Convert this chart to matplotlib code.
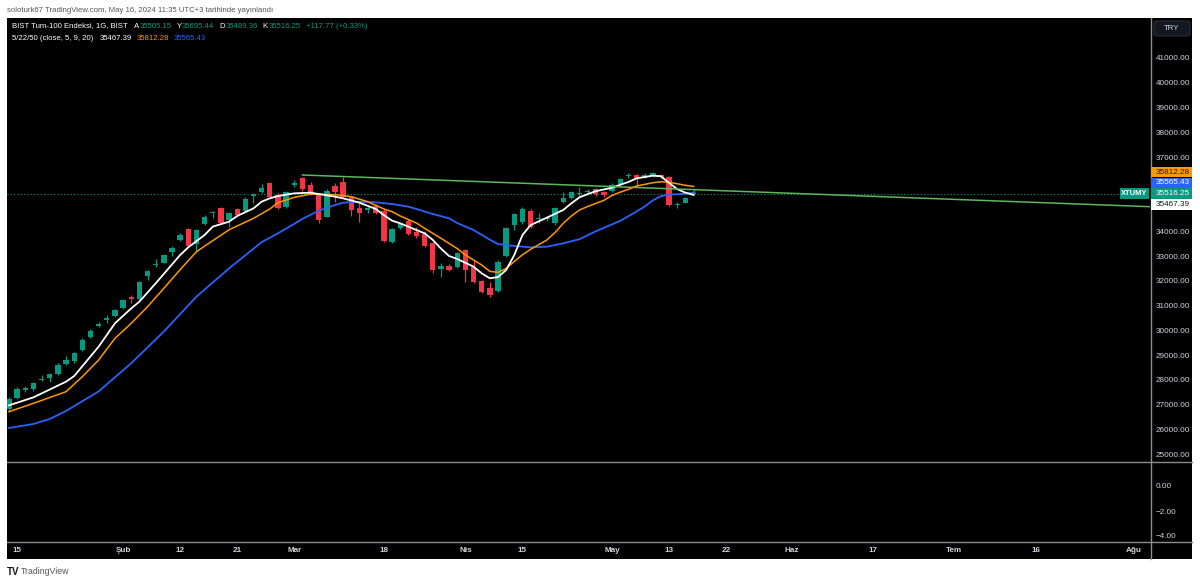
import matplotlib.pyplot as plt
import pandas as pd
from matplotlib.patches import Rectangle, FancyBboxPatch
from matplotlib.lines import Line2D

plt.rcParams['font.family'] = ['Liberation Sans', 'DejaVu Sans']

# trading calendar (BIST, daily)
first_day = '2024-01-12'
last_day = '2024-08-09'
holidays = ['2024-04-10', '2024-04-11', '2024-04-12', '2024-04-23',
            '2024-05-01', '2024-07-15']

# OHLC, one per session from 2024-01-12 to 2024-05-16
opens = [26806, 27250, 27600, 27614, 28000, 28058, 28233, 28637, 28772, 29203,
         29714, 30186, 30420, 30590, 30913, 31357, 31263, 32192, 32624, 32731,
         33175, 33647, 34078, 33485, 34293, 34724, 34926, 34455, 34886, 34832,
         35425, 35600, 35963, 35465, 34994, 35869, 36138, 35869, 35492, 34590,
         35829, 35990, 35371, 34926, 34859, 35034, 34832, 33580, 34118, 34428,
         33983, 33889, 33512, 32462, 32597, 32543, 33243, 32570, 31990, 31721,
         31587, 33014, 34253, 34361, 34832, 34482, 34490, 34320, 35169, 35357,
         35505, 35573, 35694, 35600, 35627, 35909, 36219, 36286, 36165, 36233,
         36259, 36179, 35048, 35155, 35505.15]
highs = [27290, 27694, 27748, 27924, 28193, 28287, 28664, 28960, 29136, 29674,
         30038, 30347, 30603, 30873, 31277, 31425, 32004, 32435, 32866, 33081,
         33405, 33916, 34118, 34105, 34643, 34818, 34994, 34778, 34940, 35371,
         35559, 35909, 36004, 35532, 35640, 36071, 36206, 36004, 35532, 35694,
         35936, 36179, 35425, 35128, 35021, 35101, 34886, 34145, 34347, 34482,
         34186, 34024, 33580, 32704, 32677, 33162, 33297, 32839, 32031, 31964,
         32839, 34186, 34751, 34994, 34886, 34724, 34617, 34967, 35600, 35640,
         35802, 35694, 35734, 35640, 35936, 36138, 36340, 36313, 36340, 36394,
         36313, 36233, 35169, 35398, 35695.44]
lows = [26712, 27210, 27520, 27560, 27964, 27924, 28193, 28610, 28691, 29176,
        29674, 30146, 30280, 30550, 30873, 31088, 31223, 32031, 32570, 32704,
        33000, 33620, 33351, 33176, 34266, 34522, 34293, 34159, 34617, 34792,
        35155, 35532, 35330, 34886, 34953, 35802, 35640, 35451, 34347, 34563,
        35196, 35330, 34617, 34388, 34724, 34684, 33566, 33539, 34078, 33849,
        33714, 33351, 32300, 32139, 32381, 32502, 31964, 31896, 31492, 31358,
        31560, 32974, 34051, 34293, 34118, 34320, 34428, 34253, 35155, 35317,
        35425, 35505, 35425, 35398, 35586, 35869, 36138, 35775, 36138, 36179,
        36165, 35021, 34926, 35128, 35489.36]
closes = [27210, 27614, 27660, 27856, 28050, 28220, 28597, 28799, 29068, 29607,
          29984, 30240, 30490, 30819, 31223, 31250, 31950, 32381, 32691, 33041,
          33337, 33862, 33405, 34051, 34590, 34778, 34320, 34724, 34657, 35317,
          35490, 35761, 35371, 34926, 35600, 35936, 35694, 35492, 34455, 35640,
          35600, 35371, 34859, 34724, 34926, 34724, 33606, 34091, 34280, 33889,
          33808, 33405, 32435, 32610, 32435, 33108, 32435, 31937, 31533, 31425,
          32772, 34118, 34684, 34899, 34186, 34549, 34530, 34926, 35330, 35573,
          35559, 35627, 35492, 35465, 35869, 36098, 36273, 36138, 36273, 36340,
          36206, 35061, 35115, 35357, 35516.25]

# moving averages (white 5, orange 9, blue 20)
ma5_dates = ['01-12', '01-17', '01-23', '01-24', '01-29', '01-31', '02-02', '02-05',
             '02-07', '02-12', '02-13', '02-15', '02-16', '02-20', '02-21', '02-23',
             '02-26', '02-27', '02-28', '03-01', '03-05', '03-08', '03-11', '03-13',
             '03-15', '03-18', '03-19', '03-20', '03-22', '03-25', '03-26', '03-27',
             '03-28', '03-29', '04-02', '04-03', '04-04', '04-05', '04-08', '04-09',
             '04-15', '04-16', '04-18', '04-22', '04-24', '04-25', '04-26', '04-29',
             '05-02', '05-03', '05-06', '05-07', '05-09', '05-10', '05-13', '05-14',
             '05-15', '05-16']
ma5_vals = [26967, 27290, 27923, 28152, 29338, 30280, 30886, 31156,
            31896, 33041, 33351, 33849, 34186, 34388, 34617, 34926,
            35196, 35330, 35425, 35532, 35559, 35398, 35330, 35155,
            34900, 34650, 34430, 34320, 34050, 33916, 33650, 33300,
            33000, 32880, 32570, 32300, 32100, 32150, 32435, 33041,
            33849, 34250, 34550, 34859, 35128, 35371, 35500, 35620,
            35760, 35880, 35990, 36138, 36246, 36220, 35950, 35700,
            35560, 35467.39]
ma9_dates = ['01-12', '01-17', '01-23', '01-25', '01-29', '01-31', '02-02', '02-06',
             '02-08', '02-12', '02-14', '02-16', '02-20', '02-23', '02-27', '02-28',
             '03-01', '03-05', '03-08', '03-12', '03-14', '03-18', '03-19', '03-20',
             '03-22', '03-25', '03-27', '03-29', '04-01', '04-03', '04-04', '04-05',
             '04-08', '04-09', '04-15', '04-16', '04-18', '04-19', '04-22', '04-24',
             '04-25', '04-26', '04-30', '05-02', '05-03', '05-06', '05-07', '05-09',
             '05-10', '05-13', '05-14', '05-15', '05-16']
ma9_vals = [26712, 27048, 27520, 28126, 28799, 29674, 30280, 30953,
            31694, 32450, 33176, 33620, 34060, 34522, 34900, 35155,
            35371, 35500, 35480, 35398, 35196, 34900, 34792, 34617,
            34330, 34118, 33714, 33300, 33041, 32637, 32380, 32340,
            32500, 32780, 33050, 33270, 33650, 33950, 34320, 34617,
            34859, 35000, 35250, 35450, 35580, 35694, 35829, 35960,
            36000, 35980, 35920, 35855, 35812.28]
ma20_dates = ['01-12', '01-17', '01-19', '01-23', '01-29', '02-02', '02-08', '02-14',
              '02-20', '02-26', '02-28', '03-01', '03-04', '03-06', '03-08', '03-11',
              '03-13', '03-15', '03-19', '03-21', '03-22', '03-26', '03-28', '03-29',
              '04-02', '04-04', '04-05', '04-09', '04-16', '04-18', '04-22', '04-25',
              '04-29', '05-03', '05-07', '05-08', '05-09', '05-10', '05-13', '05-14',
              '05-15', '05-16']
ma20_vals = [26052, 26214, 26416, 26740, 27530, 28670, 29950, 31358,
             32500, 33560, 33916, 34300, 34500, 34830, 35061, 35155,
             35196, 35169, 35101, 34994, 34900, 34697, 34522, 34330,
             34051, 33660, 33485, 33405, 33351, 33378, 33512, 33680,
             34000, 34420, 34800, 35000, 35250, 35420, 35480, 35495,
             35520, 35565.43]

# trend line drawn from the March high, extended right
trend_dates = ['2024-03-04', '2024-05-16']
trend_vals = [36273, 35682]

time_label_dates = ['2024-01-15', '2024-02-01', '2024-02-12', '2024-02-21', '2024-03-01',
                    '2024-03-18', '2024-04-01', '2024-04-15', '2024-05-02', '2024-05-13',
                    '2024-05-22', '2024-06-03', '2024-06-17', '2024-07-01', '2024-07-16',
                    '2024-08-01']
time_label_texts = ['15', 'Şub', '12', '21', 'Mar', '18', 'Nis', '15', 'May', '13',
                    '22', 'Haz', '17', 'Tem', '16', 'Ağu']
price_ticks = [25000, 26000, 27000, 28000, 29000, 30000, 31000, 32000, 33000, 34000,
               37000, 38000, 39000, 40000, 41000]
osc_ticks = [0, -2, -4]

last_labels = ['35812.28', '35565.43', '35516.25', '35467.39']

UP, DOWN = '#089981', '#F23645'
C_WHITE, C_ORANGE, C_BLUE = '#FFFFFF', '#FF9800', '#2962FF'
BG = '#000000'
GRID_LINE = '#8c8c8c'
AXIS_TXT = '#d1d4dc'
AX_FS = 5.9

W, H = 1200, 583
def fx(x):
    return x / W
def fy(y):
    return 1 - y / H

days = pd.bdate_range(first_day, last_day)
days = days[~days.isin(pd.to_datetime(holidays))]
pos = pd.Series(range(len(days)), index=days)

def idx(d):
    return pos[pd.Timestamp(d)]

def idx_md(md):
    return pos[pd.Timestamp('2024-' + md)]

fig = plt.figure(figsize=(12, 5.83), dpi=100, facecolor='white')
renderer = fig.canvas.get_renderer()
fig.patches.append(Rectangle((fx(7), fy(559)), fx(1192) - fx(7), fy(18) - fy(559),
                             transform=fig.transFigure, facecolor=BG, edgecolor='none',
                             zorder=-10))

x_lo, x_hi = -0.245, 140.0
ax = fig.add_axes([fx(7), fy(462), fx(1150) - fx(7), fy(18) - fy(462)], facecolor=BG)
ax_o = fig.add_axes([fx(7), fy(542), fx(1150) - fx(7), fy(462) - fy(542)], facecolor=BG)
ax_t = fig.add_axes([fx(7), fy(559), fx(1150) - fx(7), fy(542) - fy(559)], facecolor=BG)

# candles
n = len(closes)
xs = list(range(n))
cols = [UP if c >= o else DOWN for o, c in zip(opens, closes)]
bottoms = [min(o, c) for o, c in zip(opens, closes)]
heights = [max(abs(c - o), 25) for o, c in zip(opens, closes)]
ax.vlines(xs, lows, highs, colors=cols, lw=0.9, zorder=3)
ax.bar(xs, heights, bottom=bottoms, width=0.66, color=cols, zorder=4, linewidth=0)

# moving averages
ax.plot([idx_md(d) for d in ma20_dates], ma20_vals, color=C_BLUE, lw=1.3, zorder=5)
ax.plot([idx_md(d) for d in ma9_dates], ma9_vals, color=C_ORANGE, lw=1.1, zorder=5)
ax.plot([idx_md(d) for d in ma5_dates], ma5_vals, color=C_WHITE, lw=1.3, zorder=6)

# trend line
tx0, tx1 = idx(trend_dates[0]), idx(trend_dates[1])
slope = (trend_vals[1] - trend_vals[0]) / (tx1 - tx0)
ax.plot([tx0, x_hi], [trend_vals[0], trend_vals[0] + slope * (x_hi - tx0)],
        color='#5cb85c', lw=1.1, zorder=6)

# last price line
ax.axhline(closes[-1], color=UP, ls=(0, (1, 2)), lw=0.8, zorder=2)

ax.set_xlim(x_lo, x_hi)
ax.set_ylim(24678, 42616)
ax.yaxis.tick_right()
ax.set_yticks(price_ticks)
ax.set_yticklabels([f'{v:.2f}' for v in price_ticks])
ax.tick_params(axis='y', length=0, pad=4.3, labelsize=AX_FS, labelcolor=AXIS_TXT)
ax.set_xticks([])

ax_o.set_xlim(x_lo, x_hi)
ax_o.set_ylim(-4.48, 1.92)
ax_o.yaxis.tick_right()
ax_o.set_yticks(osc_ticks)
ax_o.set_yticklabels([f'{v:.2f}'.replace('-', '\u2212') for v in osc_ticks])
ax_o.tick_params(axis='y', length=0, pad=4.3, labelsize=AX_FS, labelcolor=AXIS_TXT)
ax_o.set_xticks([])

ax_t.set_xlim(x_lo, x_hi)
ax_t.set_ylim(0, 1)
ax_t.set_xticks([])
ax_t.set_yticks([])
for d, t in zip(time_label_dates, time_label_texts):
    ax_t.text(idx(d), 0.5, t, color=AXIS_TXT, fontsize=AX_FS, ha='center', va='center',
              fontweight='bold')

for a in (ax, ax_o, ax_t):
    for s in a.spines.values():
        s.set_visible(False)

# pane separators
for yy in (462, 542):
    fig.add_artist(Line2D([fx(7), fx(1192)], [fy(yy), fy(yy)], color=GRID_LINE, lw=1.0))
fig.add_artist(Line2D([fx(1150.5), fx(1150.5)], [fy(18), fy(559)], color=GRID_LINE, lw=1.0))

# price axis value tags
tag_styles = [(C_ORANGE, '#1a1a1a'), (C_BLUE, 'white'), (UP, 'white'), (C_WHITE, '#131722')]
tag_y = [172, 183, 193.5, 204.5]
for (bg, fg), yy, txt in zip(tag_styles, tag_y, last_labels):
    fig.patches.append(Rectangle((fx(1151), fy(yy + 5.3)), fx(1192) - fx(1151), fy(yy - 5.3) - fy(yy + 5.3),
                                 transform=fig.transFigure, facecolor=bg, edgecolor='none', zorder=3))
    fig.text(fx(1156), fy(yy), txt, color=fg, fontsize=AX_FS, va='center', ha='left', zorder=4)
fig.patches.append(Rectangle((fx(1120), fy(199)), fx(1149) - fx(1120), fy(188) - fy(199),
                             transform=fig.transFigure, facecolor=UP, edgecolor='none', zorder=3))
fig.text(fx(1134.5), fy(193.5), 'XTUMY', color='white', fontsize=5.4, fontweight='bold',
         va='center', ha='center', zorder=4)

# currency box
fig.patches.append(FancyBboxPatch((fx(1154), fy(36)), fx(1190) - fx(1154), fy(21) - fy(36),
                                  boxstyle='round,pad=0,rounding_size=0.003',
                                  transform=fig.transFigure, facecolor='#131722',
                                  edgecolor='#2a2e39', lw=0.8, zorder=3))
fig.text(fx(1172), fy(29), 'TRY', color=AXIS_TXT, fontsize=5.6, va='center', ha='center', zorder=4)

# header and legend
fig.text(fx(7), fy(10), 'soloturk67 TradingView.com, May 16, 2024 11:35 UTC+3 tarihinde yayınlandı',
         color='#555555', fontsize=5.6, va='center', ha='left')

def text_row(x0, y, parts, size):
    x = x0
    for t, c, gap in parts:
        tt = fig.text(fx(x), fy(y), t, color=c, fontsize=size, va='center', ha='left')
        x += tt.get_window_extent(renderer).width + gap

text_row(12, 26, [('BIST Tum-100 Endeksi, 1G, BIST', 'white', 6),
                  ('A', 'white', 0.5), ('35505.15', UP, 5),
                  ('Y', 'white', 0.5), ('35695.44', UP, 5),
                  ('D', 'white', 0.5), ('35489.36', UP, 5),
                  ('K', 'white', 0.5), ('35516.25', UP, 6),
                  ('+117.77 (+0.33%)', UP, 0)], 5.6)
text_row(12, 38.5, [('5/22/50 (close, 5, 9, 20)', 'white', 6), ('35467.39', 'white', 5),
                    ('35812.28', C_ORANGE, 5), ('35565.43', C_BLUE, 0)], 5.6)

# footer logo
fig.text(fx(7), fy(572), 'TV', color='#131722', fontsize=7, fontweight='bold',
         va='center', ha='left')
fig.text(fx(21), fy(572), 'TradingView', color='#555555', fontsize=6.3, va='center', ha='left')

fig.savefig('out.png', dpi=100, facecolor='white')
